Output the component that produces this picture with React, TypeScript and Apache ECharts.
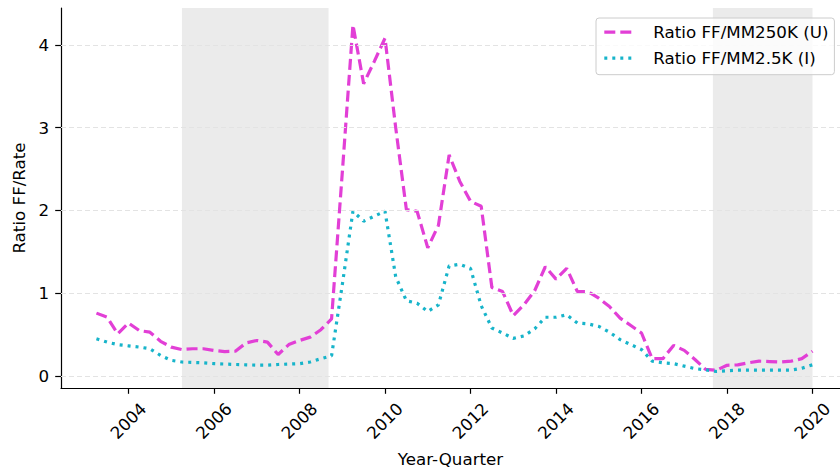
import React, { useEffect, useRef } from "react";
import * as echarts from "echarts";

// Quarterly observations from 2003Q2 through 2020Q1
const START_YEAR = 2003;
const START_Q = 2;
const END_YEAR = 2020;
const END_Q = 1;

const quarterLabels: string[] = [];
for (let y = START_YEAR; y <= END_YEAR; y++) {
  for (let q = 1; q <= 4; q++) {
    if (y === START_YEAR && q < START_Q) continue;
    if (y === END_YEAR && q > END_Q) continue;
    quarterLabels.push(`${y}Q${q}`);
  }
}

const ratioU250K = [
  0.76, 0.71, 0.51,
  0.64, 0.55, 0.53, 0.42,
  0.35, 0.32, 0.33, 0.33,
  0.31, 0.295, 0.30, 0.40,
  0.43, 0.41, 0.26, 0.38,
  0.43, 0.47, 0.56, 0.69,
  2.45, 4.24, 3.53, 3.80,
  4.08, 3.0, 2.01, 1.99,
  1.55, 1.82, 2.67, 2.35,
  2.11, 2.05, 1.07, 1.02,
  0.73, 0.86, 1.03, 1.32,
  1.17, 1.30, 1.02, 1.02,
  0.94, 0.84, 0.70, 0.61,
  0.52, 0.21, 0.21, 0.37,
  0.31, 0.20, 0.08, 0.07,
  0.13, 0.135, 0.16, 0.18,
  0.175, 0.17, 0.18, 0.21,
  0.30,
];

const ratioI2500 = [
  0.45, 0.41, 0.38,
  0.365, 0.35, 0.33, 0.25,
  0.19, 0.17, 0.165, 0.16,
  0.15, 0.145, 0.14, 0.136,
  0.132, 0.132, 0.14, 0.145,
  0.15, 0.17, 0.21, 0.245,
  1.1, 1.99, 1.87, 1.93,
  1.99, 1.2, 0.91, 0.88,
  0.78, 0.86, 1.33, 1.35,
  1.3, 0.85, 0.58, 0.52,
  0.455, 0.485, 0.57, 0.71,
  0.71, 0.74, 0.64, 0.63,
  0.60, 0.53, 0.44, 0.38,
  0.32, 0.18, 0.16, 0.15,
  0.12, 0.09, 0.075, 0.055,
  0.064, 0.072, 0.072, 0.072,
  0.072, 0.072, 0.072, 0.094,
  0.136,
];

// Shaded periods (decimal years)
const shadedPeriods: [number, number][] = [
  [2005.25, 2008.68],
  [2017.67, 2020.0],
];

const xTicks = [2004, 2006, 2008, 2010, 2012, 2014, 2016, 2018, 2020];
const yTicks = [0, 1, 2, 3, 4];

const SERIES_U = "Ratio FF/MM250K (U)";
const SERIES_I = "Ratio FF/MM2.5K (I)";

const FONT = "DejaVu Sans";
const FS = 16.7;
const LINE_W = 3.2;

function quarterToYear(label: string): number {
  const [y, q] = label.split("Q").map(Number);
  return y + (q - 1) / 4;
}

export default function App() {
  const ref = useRef<HTMLDivElement>(null);

  useEffect(() => {
    if (!ref.current) return;
    const chart = echarts.init(ref.current, undefined, { renderer: "svg" });
    const xs = quarterLabels.map(quarterToYear);

    chart.setOption({
      animation: false,
      backgroundColor: "#ffffff",
      textStyle: { fontFamily: FONT },
      grid: { left: 61, top: 8, right: 0, bottom: 82.7 },
      legend: {
        orient: "vertical",
        left: 596,
        top: 18,
        padding: [5.7, 6, 8, 6.7],
        itemGap: 9,
        itemWidth: 32,
        itemHeight: 16,
        backgroundColor: "rgba(255,255,255,0.8)",
        borderColor: "#cccccc",
        borderWidth: 1,
        borderRadius: 3,
        z: 10,
        // legend keys show only the dashed / dotted stroke
        itemStyle: {
          color: "rgba(0,0,0,0)",
          borderColor: "rgba(0,0,0,0)",
          borderWidth: 0,
        },
        lineStyle: { width: LINE_W },
        textStyle: {
          fontFamily: FONT,
          fontSize: FS,
          color: "#000",
          padding: [0, 0, 0, 12],
        },
        data: [SERIES_U, SERIES_I],
      },
      xAxis: {
        type: "value",
        min: 2002.421,
        max: 2020.643,
        name: "Year-Quarter",
        nameLocation: "middle",
        nameGap: 62,
        nameTextStyle: { fontFamily: FONT, fontSize: FS, color: "#000" },
        axisLine: { show: true, onZero: false, lineStyle: { color: "#000", width: 1.2 } },
        axisTick: {
          show: true,
          length: 5.8,
          customValues: xTicks,
          lineStyle: { color: "#000", width: 1.2 },
        },
        axisLabel: {
          customValues: xTicks,
          rotate: 45,
          align: "center",
          verticalAlign: "middle",
          margin: 33,
          fontFamily: FONT,
          fontSize: FS,
          color: "#000",
          formatter: (v: number) => String(Math.round(v)),
        },
        splitLine: { show: false },
      },
      yAxis: {
        type: "value",
        min: -0.144,
        max: 4.444,
        name: "Ratio FF/Rate",
        nameLocation: "middle",
        nameGap: 30,
        nameRotate: 90,
        nameTextStyle: { fontFamily: FONT, fontSize: FS, color: "#000" },
        axisLine: { show: true, onZero: false, lineStyle: { color: "#000", width: 1.2 } },
        axisTick: {
          show: true,
          length: 5.8,
          customValues: yTicks,
          lineStyle: { color: "#000", width: 1.2 },
        },
        axisLabel: {
          customValues: yTicks,
          margin: 12,
          fontFamily: FONT,
          fontSize: FS,
          color: "#000",
          formatter: (v: number) => String(Math.round(v)),
        },
        splitLine: { show: false },
      },
      series: [
        {
          name: "__background",
          type: "line",
          data: [],
          silent: true,
          z: 1,
          markArea: {
            silent: true,
            itemStyle: { color: "rgba(0,0,0,0.08)" },
            data: shadedPeriods.map(([a, b]) => [{ xAxis: a }, { xAxis: b }]),
          },
          markLine: {
            silent: true,
            symbol: "none",
            label: { show: false },
            lineStyle: { color: "#e3e3e3", width: 1.1, type: [5, 3] },
            data: yTicks.map((v) => ({ yAxis: v })),
          },
        },
        {
          name: SERIES_U,
          type: "line",
          z: 3,
          symbol: "none",
          showSymbol: false,
          color: "#e23fd6",
          lineStyle: { color: "#e23fd6", width: LINE_W, type: [11, 5], cap: "butt" },
          data: xs.map((x, i) => [x, ratioU250K[i]]),
        },
        {
          name: SERIES_I,
          type: "line",
          z: 3,
          symbol: "none",
          showSymbol: false,
          color: "#17b4ca",
          lineStyle: { color: "#17b4ca", width: LINE_W, type: [3, 5], cap: "butt" },
          data: xs.map((x, i) => [x, ratioI2500[i]]),
        },
      ],
    });

    return () => chart.dispose();
  }, []);

  return (
    <div
      ref={ref}
      style={{ position: "fixed", left: 0, top: 0, width: 840, height: 472 }}
    />
  );
}
